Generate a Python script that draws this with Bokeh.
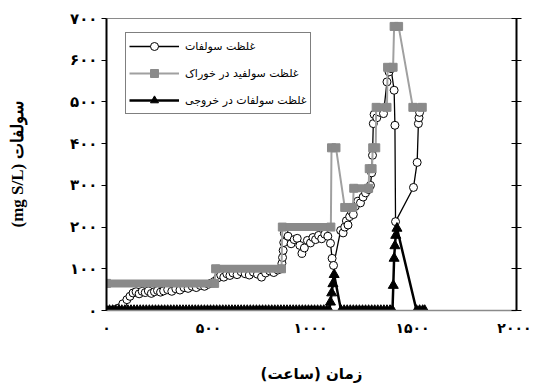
from bokeh.plotting import figure
from bokeh.models import Range1d, LinearAxis, FixedTicker, Legend, LegendItem
from bokeh.embed import file_html
from bokeh.resources import INLINE

# ---------------- data ----------------
x_ticks = [0, 500, 1000, 1500, 2000]
x_tick_labels = ["۰", "۵۰۰", "۱۰۰۰", "۱۵۰۰", "۲۰۰۰"]
y_ticks = [0, 100, 200, 300, 400, 500, 600, 700]
y_tick_labels = ["۰", "۱۰۰", "۲۰۰", "۳۰۰", "۴۰۰", "۵۰۰", "۶۰۰", "۷۰۰"]

x_label = "\u202bزمان (ساعت)\u202c"
y_label = "\u202bسولفات (mg S/L)\u202c"

label_sulfate = "غلظت سولفات"
label_feed = "غلظت سولفید در خوراک"
label_effluent = "غلظت سولفات در خروجی"

sulfate_hours = [0, 20, 40, 60, 80, 100, 115, 130, 145, 160, 175, 190, 205, 220, 235,
                 250, 265, 280, 300, 320, 340, 360, 380, 400, 420, 440, 460, 480, 500,
                 515, 530, 545, 560, 575, 590, 605, 620, 640, 660, 680, 700, 720, 740,
                 760, 780, 800, 820, 840, 856, 860, 863, 866, 869, 872, 890, 905, 920,
                 935, 948, 958, 970, 985, 1000, 1012, 1025, 1040, 1055, 1070, 1085, 1098,
                 1106, 1113, 1148, 1160, 1168, 1176, 1184, 1192, 1200, 1210, 1220, 1232,
                 1245, 1258, 1270, 1285, 1294, 1300, 1304, 1308, 1312, 1325, 1340, 1358,
                 1375, 1385, 1395, 1410, 1414, 1417, 1505, 1523, 1529, 1532, 1535]
sulfate = [0, 0, 2, 6, 16, 26, 34, 42, 45, 40, 46, 43, 47, 41, 45,
           48, 44, 47, 50, 46, 52, 49, 55, 53, 58, 55, 60, 58, 63,
           66, 70, 78, 85, 80, 88, 84, 90, 86, 93, 88, 85, 92, 87,
           80, 90, 95, 91, 97, 100, 113, 127, 144, 163, 185, 178, 160, 170,
           173, 156, 137, 150, 168, 162, 175, 170, 180, 172, 183, 178, 161,
           125, 108, 192, 186, 200, 215, 205, 225, 238, 230, 250, 262,
           258, 272, 282, 290, 300, 330, 372, 448, 470, 462, 475, 472,
           548, 572, 580, 528, 444, 213, 295, 355, 448, 462, 475]

feed_hours = [0, 530, 535, 858, 862, 1100, 1103, 1125, 1168, 1208, 1212, 1285,
              1288, 1302, 1305, 1320, 1322, 1375, 1378, 1405, 1410, 1432, 1502, 1548]
feed = [65, 65, 100, 100, 200, 200, 390, 390, 247, 247, 293, 293,
        340, 340, 390, 390, 487, 487, 583, 583, 681, 681, 487, 487]

effluent_hours = [0, 15, 30, 45, 60, 75, 90, 105, 120, 135, 150, 165, 180, 195, 210,
                  225, 240, 255, 270, 285, 300, 315, 330, 345, 360, 375, 390, 405, 420,
                  435, 450, 465, 480, 495, 510, 525, 540, 555, 570, 585, 600, 615, 630,
                  645, 660, 675, 690, 705, 720, 735, 750, 765, 780, 795, 810, 825, 840,
                  855, 870, 885, 900, 915, 930, 945, 960, 975, 990, 1005, 1020, 1035,
                  1050, 1065, 1080, 1092, 1098, 1104, 1110, 1116, 1150, 1165, 1180, 1195,
                  1210, 1225, 1240, 1255, 1270, 1285, 1300, 1315, 1330, 1345, 1360, 1375,
                  1390, 1402, 1406, 1410, 1414, 1418, 1424, 1520, 1535, 1550, 1560]
effluent = [0, 0, 0, 0, 0, 0, 0, 0, 0, 0, 0, 0, 0, 0, 0,
            0, 0, 0, 0, 0, 0, 0, 0, 0, 0, 0, 0, 0, 0,
            0, 0, 0, 0, 0, 0, 0, 0, 0, 0, 0, 0, 0, 0,
            0, 0, 0, 0, 0, 0, 0, 0, 0, 0, 0, 0, 0, 0,
            0, 0, 0, 0, 0, 0, 0, 0, 0, 0, 0, 0, 0,
            0, 0, 0, 0, 20, 42, 64, 86, 0, 0, 0, 0,
            0, 0, 0, 0, 0, 0, 0, 0, 0, 0, 0, 0,
            0, 0, 60, 125, 155, 180, 197, 0, 0, 0, 0]

# ---------------- figure ----------------
p = figure(width=537, height=391, output_backend="svg", toolbar_location=None,
           x_range=Range1d(0, 2010), y_range=Range1d(0, 700),
           min_border_left=106, min_border_right=21, min_border_top=18,
           min_border_bottom=81)
p.grid.visible = False
p.outline_line_color = "#8a8a8a"
p.outline_line_width = 1

tick_font = "DejaVu Sans"

xa = p.xaxis[0]
xa.ticker = FixedTicker(ticks=x_ticks)
xa.major_label_overrides = dict(zip(x_ticks, x_tick_labels))
xa.axis_line_color = "#8a8a8a"
xa.axis_line_width = 1.5
xa.major_tick_line_color = None
xa.minor_tick_line_color = None
xa.major_tick_out = 0
xa.major_tick_in = 0
xa.major_label_standoff = 9
xa.major_label_text_font = tick_font
xa.major_label_text_font_style = "bold"
xa.major_label_text_font_size = "14px"
xa.major_label_text_color = "black"
xa.axis_label = x_label
xa.axis_label_text_font = "DejaVu Sans"
xa.axis_label_text_font_style = "bold"
xa.axis_label_text_font_size = "15px"
xa.axis_label_text_color = "black"
xa.axis_label_standoff = 26

ya = p.yaxis[0]
ya.ticker = FixedTicker(ticks=y_ticks)
ya.major_label_overrides = dict(zip(y_ticks, y_tick_labels))
ya.axis_line_color = "black"
ya.axis_line_width = 2
ya.major_tick_line_color = "black"
ya.major_tick_out = 5
ya.major_tick_in = 0
ya.minor_tick_line_color = None
ya.major_label_standoff = 4
ya.major_label_text_font = tick_font
ya.major_label_text_font_style = "bold"
ya.major_label_text_font_size = "15px"
ya.major_label_text_color = "black"
ya.axis_label = y_label
ya.axis_label_text_font = "Liberation Serif"
ya.axis_label_text_font_style = "bold"
ya.axis_label_text_font_size = "17px"
ya.axis_label_text_color = "black"
ya.axis_label_standoff = 40

ra = LinearAxis(ticker=FixedTicker(ticks=y_ticks),
                major_label_overrides={t: "" for t in y_ticks},
                axis_line_color="black", axis_line_width=2,
                major_tick_line_color="black", major_tick_in=5, major_tick_out=5,
                minor_tick_line_color=None)
p.add_layout(ra, "right")

# sulfate
s_line = p.line(sulfate_hours, sulfate, line_color="black", line_width=1.3)
s_pts = p.scatter(sulfate_hours, sulfate, marker="circle", size=8,
                  fill_color="white", line_color="black", line_width=1)

# feed
f_line = p.line(feed_hours, feed, line_color="#a0a0a0", line_width=2)
bx0, by0, bx1, by1 = [], [], [], []
for i in range(len(feed) - 1):
    if feed[i] == feed[i + 1]:
        bx0.append(feed_hours[i]); by0.append(feed[i])
        bx1.append(feed_hours[i + 1]); by1.append(feed[i + 1])
p.segment(bx0, by0, bx1, by1, line_color="#8a8a8a", line_width=8, line_cap="butt")
f_pts = p.scatter(feed_hours, feed, marker="square", size=8,
                  fill_color="#8a8a8a", line_color="#8a8a8a")

# effluent
e_line = p.line(effluent_hours, effluent, line_color="black", line_width=2.5)
e_pts = p.scatter(effluent_hours, effluent, marker="triangle", size=10,
                  fill_color="black", line_color="black")

legend = Legend(items=[
    LegendItem(label=label_sulfate, renderers=[s_line, s_pts]),
    LegendItem(label=label_feed, renderers=[f_line, f_pts]),
    LegendItem(label=label_effluent, renderers=[e_line, e_pts]),
], location=(19, 196))
legend.padding = 3
legend.spacing = 7
legend.margin = 0
legend.glyph_width = 50
legend.glyph_height = 20
legend.label_height = 20
legend.label_standoff = 6
legend.border_line_color = "black"
legend.border_line_width = 1
legend.background_fill_alpha = 1
legend.label_text_font = "DejaVu Sans"
legend.label_text_font_size = "11px"
legend.label_text_color = "black"
p.add_layout(legend)

open("out.html", "w").write(file_html(p, INLINE))
